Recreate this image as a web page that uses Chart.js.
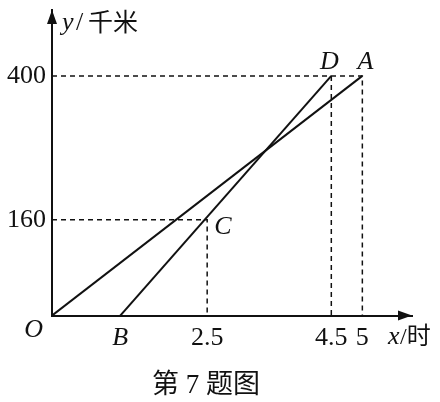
<!DOCTYPE html>
<html>
<head>
<meta charset="utf-8">
<script src="https://cdn.jsdelivr.net/npm/chart.js@4.4.1/dist/chart.umd.min.js"></script>
<style>
  body { margin: 0; background: #fff; }
  #wrap { width: 440px; height: 402px; }
</style>
</head>
<body>
<div id="wrap"><canvas id="graphChart"></canvas></div>
<script>
// points of the figure (x in hours, y in km)
const pointNames = ['O', 'B', 'C', 'D', 'A'];
const pointX = [0, 1.1, 2.5, 4.5, 5];
const pointY = [0, 0, 160, 400, 400];
const xTicks = [1.1, 2.5, 4.5, 5];
const xTickLabels = ['B', '2.5', '4.5', '5'];
const yTicks = [160, 400];

const serif = '"Liberation Serif", "Times New Roman", serif';
const mixed = '"Liberation Serif", "Noto Sans CJK SC", serif';

const pt = (i) => ({ x: pointX[i], y: pointY[i] });

const solid = (data) => ({
  data: data, borderColor: '#111', borderWidth: 2, pointRadius: 0, fill: false, tension: 0
});
const dashed = (data) => ({
  data: data, borderColor: '#111', borderWidth: 1.5, borderDash: [5, 4], pointRadius: 0, fill: false, tension: 0
});

// arrows, axis names and point letters
const figureLabels = {
  id: 'figureLabels',
  afterDraw(chart) {
    const ctx = chart.ctx;
    const xs = chart.scales.x, ys = chart.scales.y;
    const ox = xs.left, oy = ys.bottom;
    ctx.save();
    ctx.fillStyle = '#111';
    // arrow heads
    ctx.beginPath();
    ctx.moveTo(xs.right, oy);
    ctx.lineTo(xs.right - 14, oy - 5);
    ctx.lineTo(xs.right - 14, oy + 5);
    ctx.closePath();
    ctx.fill();
    ctx.beginPath();
    ctx.moveTo(ox, ys.top);
    ctx.lineTo(ox - 5, ys.top + 14);
    ctx.lineTo(ox + 5, ys.top + 14);
    ctx.closePath();
    ctx.fill();

    ctx.font = 'italic 26px ' + serif;
    ctx.textBaseline = 'alphabetic';
    // O
    ctx.textAlign = 'right';
    ctx.fillText(pointNames[0], ox - 9, oy + 21);
    // C
    ctx.textAlign = 'left';
    ctx.fillText(pointNames[2], xs.getPixelForValue(pointX[2]) + 7, ys.getPixelForValue(pointY[2]) + 14);
    // D, A
    ctx.textAlign = 'center';
    ctx.fillText(pointNames[3], xs.getPixelForValue(pointX[3]) - 2, ys.getPixelForValue(pointY[3]) - 7);
    ctx.fillText(pointNames[4], xs.getPixelForValue(pointX[4]) + 3, ys.getPixelForValue(pointY[4]) - 7);

    // axis names
    ctx.textAlign = 'left';
    ctx.fillText('y', ox + 10, 30);
    ctx.font = '26px ' + serif;
    ctx.fillText('/', ox + 24, 30);
    ctx.font = '25px "Noto Sans CJK SC"';
    ctx.fillText('千米', ox + 36, 31);
    ctx.font = 'italic 26px ' + serif;
    ctx.fillText('x', 388, oy + 28);
    ctx.font = '24px ' + mixed;
    ctx.fillText('/时', 400, oy + 28);
    ctx.restore();
  }
};

function drawChart() {
  const ctx = document.getElementById('graphChart');
  window.graphChart = new Chart(ctx, {
    type: 'line',
    data: {
      datasets: [
        solid([pt(0), pt(4)]),
        solid([pt(1), pt(3)]),
        dashed([{ x: 0, y: pointY[4] }, pt(4), { x: pointX[4], y: 0 }]),
        dashed([pt(3), { x: pointX[3], y: 0 }]),
        dashed([{ x: 0, y: pointY[2] }, pt(2), { x: pointX[2], y: 0 }])
      ]
    },
    options: {
      responsive: true,
      maintainAspectRatio: false,
      animation: false,
      layout: { padding: { top: 10, right: 28, left: 0, bottom: 0 } },
      scales: {
        x: {
          type: 'linear',
          min: 0,
          max: 5.8,
          afterFit(scale) { scale.height = 40; },
          afterBuildTicks(scale) { scale.ticks = xTicks.map(v => ({ value: v })); },
          grid: { display: false, drawTicks: false },
          border: { display: true, color: '#111', width: 2 },
          ticks: {
            color: '#111',
            padding: 7,
            maxRotation: 0,
            autoSkip: false,
            font: (c) => ({ family: serif, size: 26, style: c.index === 0 ? 'italic' : 'normal' }),
            callback: (v, i) => xTickLabels[i]
          }
        },
        y: {
          type: 'linear',
          min: 0,
          max: 510,
          afterFit(scale) {
            scale.width = 52;
            scale.paddingTop = 0;
            scale.paddingBottom = 0;
          },
          afterBuildTicks(scale) { scale.ticks = yTicks.map(v => ({ value: v })); },
          grid: { display: false, drawTicks: false },
          border: { display: true, color: '#111', width: 2 },
          ticks: {
            color: '#111',
            padding: 6,
            font: { family: serif, size: 26 }
          }
        }
      },
      plugins: {
        legend: false,
        tooltip: { enabled: false },
        title: {
          display: true,
          position: 'bottom',
          text: '第 7 题图',
          color: '#111',
          font: { family: mixed, size: 27, weight: 'normal' },
          padding: { top: 14, bottom: 0 }
        }
      }
    },
    plugins: [figureLabels]
  });
}

window.addEventListener('load', drawChart);
</script>
</body>
</html>
